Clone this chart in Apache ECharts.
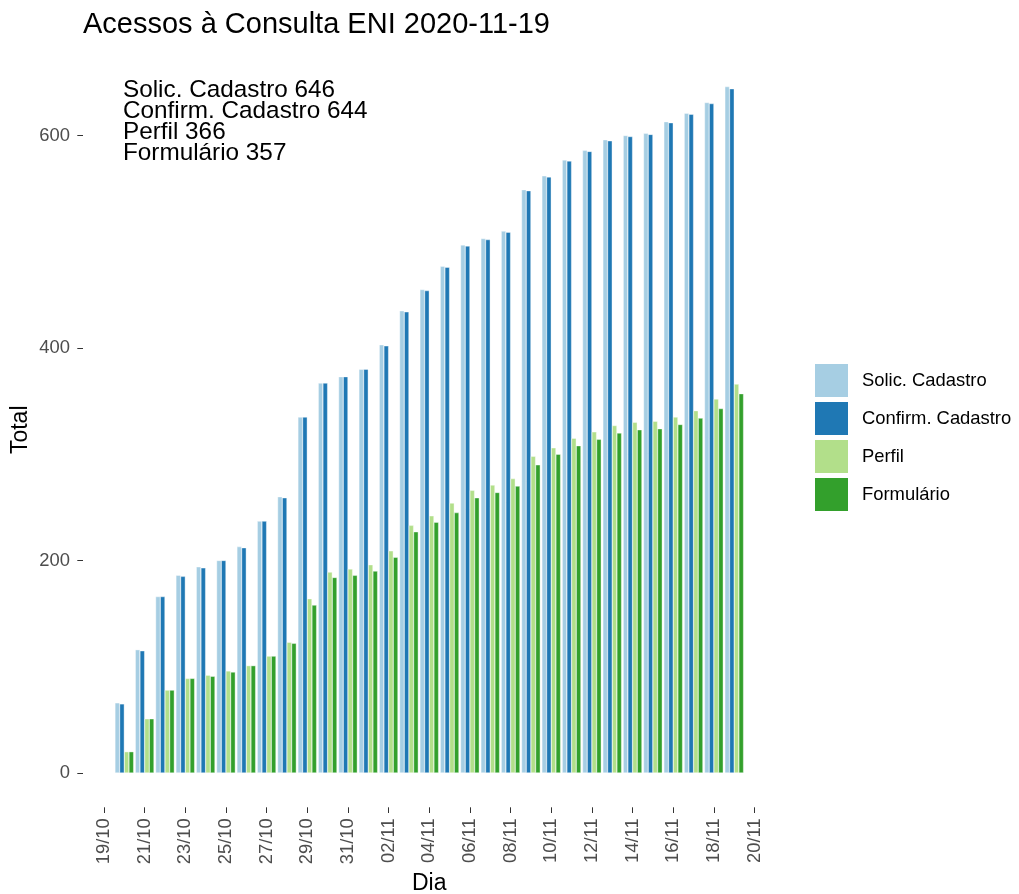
<!DOCTYPE html>
<html>
<head>
<meta charset="utf-8">
<title>Acessos à Consulta ENI</title>
<script src="https://cdn.jsdelivr.net/npm/echarts@6/dist/echarts.min.js"></script>
<style>
  html, body { margin: 0; padding: 0; background: #fff; }
  #chart { width: 1019px; height: 894px; }
</style>
</head>
<body>
<div id="chart"></div>
<script>
// dias com dados (20/10 a 19/11)
const days = ['20/10', '21/10', '22/10', '23/10', '24/10', '25/10', '26/10', '27/10', '28/10', '29/10', '30/10', '31/10',
  '01/11', '02/11', '03/11', '04/11', '05/11', '06/11', '07/11', '08/11', '09/11', '10/11', '11/11', '12/11',
  '13/11', '14/11', '15/11', '16/11', '17/11', '18/11', '19/11'];

const solicCadastro = [66, 116, 166, 186, 194, 200, 213, 237, 260, 335, 367, 373, 380, 403, 435, 455, 477, 497, 503, 510,
  549, 562, 577, 586, 596, 600, 602, 613, 621, 631, 646];
const confirmCadastro = [65, 115, 166, 185, 193, 200, 212, 237, 259, 335, 367, 373, 380, 402, 434, 454, 476, 496, 502, 509,
  548, 561, 576, 585, 595, 599, 601, 612, 620, 630, 644];
const perfil = [20, 51, 78, 89, 92, 96, 101, 110, 123, 164, 189, 192, 196, 209, 233, 242, 254, 266, 271, 277,
  298, 306, 315, 321, 327, 330, 331, 335, 341, 352, 366];
const formulario = [20, 51, 78, 89, 91, 95, 101, 110, 122, 158, 184, 186, 190, 203, 227, 236, 245, 259, 264, 270,
  290, 300, 308, 314, 320, 323, 324, 328, 334, 343, 357];

const seriesNames = ['Solic. Cadastro', 'Confirm. Cadastro', 'Perfil', 'Formulário'];
const colors = ['#A6CEE3', '#1F78B4', '#B2DF8A', '#33A02C'];
const yTicks = [0, 200, 400, 600];

// eixo x: um dia antes e um depois para os ticks de 2 em 2 dias
const axisDays = ['19/10'].concat(days, ['20/11']);
const pad = arr => [null].concat(arr, [null]);

const chart = echarts.init(document.getElementById('chart'), null, { renderer: 'canvas' });
const fontFamily = '"Liberation Sans", Arial, sans-serif';

const allSeries = [solicCadastro, confirmCadastro, perfil, formulario];
const lastLines = seriesNames.map((n, i) => n + ' ' + allSeries[i][allSeries[i].length - 1]);

// expansão de 5% como no ggplot
const yMax = 646;
const yExp = yMax * 0.05;

const option = {
  animation: false,
  backgroundColor: '#fff',
  textStyle: { fontFamily: fontFamily },
  title: {
    text: 'Acessos à Consulta ENI 2020-11-19',
    left: 83,
    top: 10,
    padding: 0,
    textStyle: { fontSize: 29, fontWeight: 'normal', color: '#000', fontFamily: fontFamily }
  },
  legend: {
    orient: 'vertical',
    left: 813,
    top: 362,
    padding: 0,
    itemWidth: 35,
    itemHeight: 35,
    itemGap: 1,
    icon: 'rect',
    data: seriesNames,
    textStyle: { fontSize: 18.4, color: '#000', fontFamily: fontFamily, padding: [0, 0, 0, 8] }
  },
  grid: {
    left: 93.8,
    right: 254.3,
    top: 52.3,
    bottom: 86.7,
    outerBoundsMode: 'none'
  },
  xAxis: {
    type: 'category',
    data: axisDays,
    name: 'Dia',
    nameLocation: 'middle',
    nameGap: 64,
    nameTextStyle: { fontSize: 23, color: '#000', fontFamily: fontFamily },
    axisLine: { show: false, onZero: false },
    axisTick: { show: true, interval: 1, alignWithLabel: true, length: 5.7, lineStyle: { color: '#333', width: 1 } },
    axisLabel: { interval: 1, rotate: 90, margin: 11, fontSize: 18.4, color: '#4D4D4D', fontFamily: fontFamily },
    splitLine: { show: false }
  },
  yAxis: {
    type: 'value',
    min: -yExp,
    max: yMax + yExp,
    offset: 10.8,
    name: 'Total',
    nameLocation: 'middle',
    nameGap: 51,
    nameRotate: 90,
    nameMoveOverlap: false,
    nameTextStyle: { fontSize: 23, color: '#000', fontFamily: fontFamily },
    axisLine: { show: false },
    axisTick: { show: true, customValues: yTicks, length: 5.7, lineStyle: { color: '#333', width: 1 } },
    axisLabel: { customValues: yTicks, margin: 13, fontSize: 18.4, color: '#4D4D4D', fontFamily: fontFamily },
    splitLine: { show: false }
  },
  graphic: [{
    type: 'text',
    left: 123,
    top: 78,
    style: {
      text: lastLines.join('\n'),
      fontSize: 24.3,
      lineHeight: 21,
      fill: '#000',
      fontFamily: fontFamily
    }
  }],
  series: allSeries.map((arr, i) => ({
    name: seriesNames[i],
    type: 'bar',
    data: pad(arr),
    barGap: '0%',
    barCategoryGap: '8%',
    itemStyle: { color: colors[i], borderColor: '#fff', borderWidth: 0.4 }
  }))
};

chart.setOption(option);
</script>
</body>
</html>
